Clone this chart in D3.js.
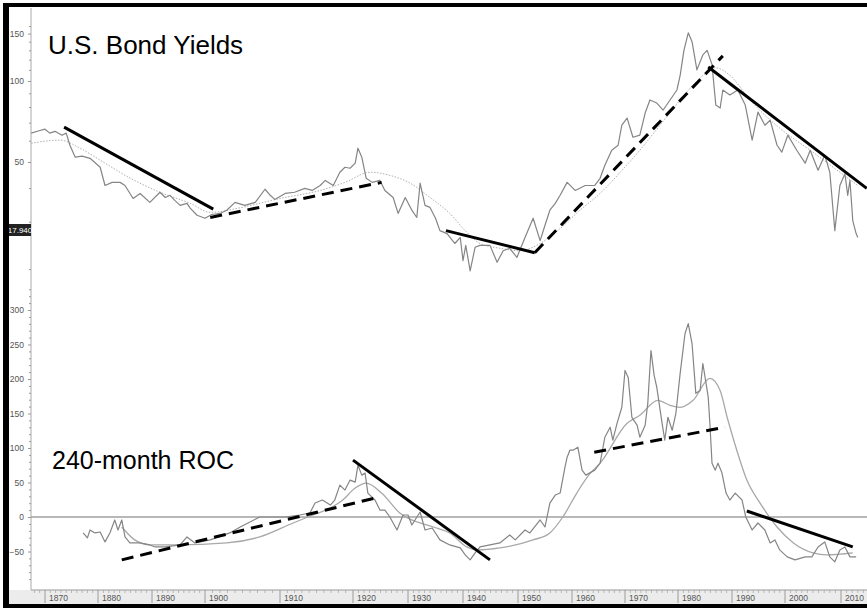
<!DOCTYPE html>
<html>
<head>
<meta charset="utf-8">
<script src="https://cdn.jsdelivr.net/npm/d3@7"></script>
<style>
  html, body { margin: 0; padding: 0; background: #fff; }
  svg { display: block; }
</style>
</head>
<body>
<svg id="chart" width="867" height="610"></svg>
<script>
// ---------------- DATA ----------------
const decadeYears = [1870, 1880, 1890, 1900, 1910, 1920, 1930, 1940, 1950, 1960, 1970, 1980, 1990, 2000, 2010];
const yTopTickLabels = [150, 100, 50];
const yTopMinorTicks = [160, 140, 130, 120, 110, 90, 80, 70, 60, 40, 30, 20];
const yBotTickLabels = [300, 250, 200, 150, 100, 50, 0, -50];
const lastValueLabel = "17.940";

const yieldYears = [1867.4,1868.7,1870,1870.9,1871.9,1873.2,1874,1874.7,1875.7,1877,1878.5,1880.4,1881.3,1882.6,1884.1,1885,1886.5,1887.8,1889.6,1891.5,1892.5,1893.4,1894.3,1895.3,1896.6,1897.2,1898.5,1900,1900.9,1902,1902.9,1904,1905.3,1906.7,1908,1908.7,1909.3,1910.7,1912,1913.4,1914.4,1915.5,1916.2,1917.3,1918.2,1918.9,1919.6,1920.4,1920.9,1921.6,1922.4,1923.5,1924.9,1925.8,1927.3,1928.2,1929.5,1930.7,1931.6,1932.2,1933.1,1934,1935,1935.8,1937.1,1938.5,1939.5,1940,1940.5,1941.3,1942.2,1943.1,1944.9,1946.2,1947.3,1948.5,1949.8,1951.3,1952.8,1954.1,1955,1955.9,1956.9,1957.8,1959.1,1960.6,1962.5,1964.3,1965.3,1966.2,1967.5,1968.7,1969.4,1970.4,1971.5,1972.8,1973.8,1974.7,1976,1977.2,1978.5,1979.8,1980.4,1981.1,1981.9,1982.6,1983.5,1984.6,1985.4,1986.3,1987,1987.8,1988.3,1989.6,1991.1,1992.5,1993.8,1994.9,1996.2,1997.2,1998.5,1999.4,2000.5,2002.1,2003.6,2004.5,2005.9,2007.1,2008,2008.9,2009.8,2010.7,2011.2,2011.6,2012.1,2012.7,2013];
const yieldValues = [64.0,65.2,66.2,64.0,65.0,62.9,64.0,57.7,52.1,52.6,51.6,47.8,40.9,42.0,42.0,40.9,36.6,38.2,35.4,38.6,36.9,37.6,36.0,34.5,35.1,33.7,31.7,30.9,31.9,32.2,33.1,35.4,34.5,35.4,39.6,37.6,36.3,38.2,38.6,39.9,39.2,40.9,42.7,40.9,45.8,47.8,47.4,49.5,56.3,52.1,43.5,42.0,42.7,39.2,36.9,32.2,36.9,33.1,31.1,41.7,34.5,33.9,30.9,27.8,27.1,24.9,26.2,21.5,24.5,19.7,24.1,24.5,24.5,21.2,23.4,23.9,22.1,26.2,30.9,25.5,29.1,33.1,35.1,37.6,42.0,39.2,40.9,40.9,43.5,48.6,55.3,57.7,68.5,72.8,61.8,62.9,76.0,85.0,82.8,78.0,85.0,92.6,105,130,151,140,110,125,130,115,81.4,79.3,92.6,88.7,92.6,81.4,60.3,76.6,68.5,71.5,57.7,54.4,62.9,55.3,49.5,55.3,46.6,53.0,45.8,27.8,40.9,45.2,37.6,42.7,30.3,27.1,26.2];

const yieldMAYears = [1867.4,1872.8,1876.6,1880.4,1886,1891.5,1897.2,1900.7,1904.7,1910,1915.5,1918.9,1923.1,1926.7,1930.4,1934,1937.6,1940.4,1943.1,1946.7,1950.4,1954.1,1957.8,1961.5,1965.3,1969.1,1972.8,1976.6,1980.4,1984.1,1986.9,1989.6,1993.4,1999,2004.5,2009.8,2013];
const yieldMAValues = [58.7,60.3,56.3,50.8,43.5,38.6,35.1,32.5,33.8,36.6,39.2,42.0,45.8,44.6,41.7,36.9,32.2,27.8,24.9,23.9,23.4,24.9,28.3,33.1,38.2,45.8,55.3,68.5,85.0,102.6,112,105,85,66.8,55.3,45.8,40.9];

const rocYears = [1877.2,1878,1878.5,1879.4,1880.4,1881.3,1882.2,1883.1,1883.7,1884.4,1885,1885.9,1887.8,1889.6,1890.6,1892.5,1895.3,1896.6,1898.1,1900.7,1903.3,1904.7,1907.3,1909.3,1910.7,1912.7,1914.1,1914.8,1915.8,1916.9,1917.5,1918.2,1918.9,1919.6,1920.4,1920.9,1921.6,1922.2,1922.7,1924,1924.9,1925.8,1926.7,1928,1929.1,1930,1930.7,1932.2,1933.1,1934.4,1935.8,1937.6,1939.5,1940.4,1941.3,1942.2,1943.1,1944.9,1946.7,1948.5,1949.5,1951.3,1952.2,1954.1,1955,1955.9,1956.9,1957.8,1958.7,1959.1,1959.6,1960.2,1961.1,1961.9,1962.6,1964.3,1965.3,1966.2,1967.2,1967.7,1968.5,1969.4,1970,1970.6,1971.3,1972.3,1972.8,1973.8,1974.3,1974.9,1975.5,1976,1977,1977.5,1978.1,1978.9,1979.6,1980.4,1981.3,1981.9,1982.6,1983.3,1984.1,1984.6,1985.2,1985.6,1985.9,1986.3,1986.9,1987.4,1988.1,1988.9,1989.6,1990.6,1991.9,1992.6,1993.8,1994.9,1996.2,1997.2,1998.1,1999,2000.4,2001.8,2003.6,2004.8,2005.9,2007.1,2008,2008.9,2009.8,2010.7,2011.6,2012.7];
const rocValues = [-23.1,-30.3,-18.8,-23.1,-21.7,-36.1,-23.1,-4.3,-18.8,-4.3,-28.9,-37.6,-37.6,-40.5,-43.4,-43.4,-40.5,-28.9,-37.6,-33.2,-23.1,-14.5,0,0,0,2.9,5.8,20.2,24.6,17.3,24.6,46.2,39.0,53.5,50.6,75.1,60.7,63.6,34.7,24.6,10.1,10.1,0,-18.8,2.9,2.9,-11.6,7.2,-18.8,-15.9,-33.2,-40.5,-44.8,-54.9,-62.1,-52.0,-43.4,-40.5,-37.6,-26.0,-33.2,-18.8,-23.1,-4.3,-14.5,20.2,31.8,34.7,72.3,86.7,96.8,96.8,101.2,67.9,60.7,67.9,78.0,115.6,130.1,111.3,135.8,159.0,212.4,202.3,144.5,132.9,115.6,132.9,164.7,241.3,205.2,187.9,135.8,111.3,144.5,125.7,150.3,208.1,265.9,280.3,251.4,179.2,183.5,222.5,193.6,173.4,135.8,78.0,67.9,78.0,65.0,34.7,24.6,34.7,24.6,0,-18.8,-8.7,-18.8,-37.6,-33.2,-47.7,-57.8,-62.1,-57.8,-57.8,-43.4,-36.1,-57.8,-65.0,-47.7,-43.4,-57.8,-57.8];

const rocMAYears = [1884.4,1886.8,1889.6,1894.7,1902.9,1907.3,1911.8,1914.5,1916.9,1918.6,1920.4,1922.4,1925.2,1928.5,1934.6,1937.6,1940.7,1942.5,1946.7,1952.8,1955.9,1958.3,1960.9,1963.3,1965.3,1970.4,1972.8,1976.2,1978.5,1980.4,1982.8,1985.9,1987.8,1989.1,1990.9,1992.8,1995.3,1998.5,2001.5,2005,2007.5,2012.1];
const rocMAValues = [-14.5,-33.2,-40.5,-40.5,-37.6,-28.9,-8.7,2.9,13.0,24.6,41.9,49.1,34.7,5.8,-14.5,-23.1,-43.4,-47.7,-44.8,-33.2,-23.1,0,34.7,62.1,78.0,135.8,147.4,169.1,161.8,159.0,169.1,200.9,183.5,144.5,96.8,53.5,20.2,-14.5,-37.6,-52.0,-54.9,-52.0];

// trendlines: [year1, value1, year2, value2, dashed]
const yieldTrendlines = [
  [1873.6, 67.4, 1901.1, 33.4, false],
  [1900.7, 31.1, 1925.2, 42.0, true],
  [1936.9, 27.8, 1953.1, 23.0, false],
  [1953.1, 23.0, 1988.3, 124, true],
  [1985.6, 112.7, 2014.6, 39.9, false]
];
const rocTrendlines = [
  [1884.4, -62.1, 1924.0, 27.5, true],
  [1920.0, 82.4, 1944.9, -62.1, false],
  [1964.2, 93.9, 1988.7, 130.1, true],
  [1992.8, 8.7, 2012.1, -43.4, false]
];

// ---------------- LAYOUT ----------------
const W = 867, H = 610;
const axisX = 31, axisBottom = 590;
const decadePx = [45, 98, 152, 205, 280, 353, 408, 463, 518, 572, 625, 678, 732, 785, 841];

const svg = d3.select("#chart");
svg.append("rect").attr("width", W).attr("height", H).attr("fill", "#fff");

const x = d3.scaleLinear().domain(decadeYears).range(decadePx);
// extrapolation helper for ends (polylinear scale clamps to end segments' slope)
const yTop = d3.scaleLog().domain([100, 50]).range([81, 162]);
const yBot = d3.scaleLinear().domain([0, 300]).range([517, 310]);

// x axis band
svg.append("rect").attr("x", 9).attr("y", axisBottom).attr("width", W - 9).attr("height", 14).attr("fill", "#ececec");
svg.append("line").attr("x1", axisX).attr("x2", W).attr("y1", axisBottom).attr("y2", axisBottom)
  .attr("stroke", "#999").attr("stroke-width", 1);

// year minor ticks
const minorYears = d3.range(1868, 2015);
svg.append("g").selectAll("line").data(minorYears).join("line")
  .attr("x1", d => x(d)).attr("x2", d => x(d))
  .attr("y1", axisBottom).attr("y2", d => d % 10 === 0 ? axisBottom + 13 : axisBottom + 3)
  .attr("stroke", d => d % 10 === 0 ? "#888" : "#aaa").attr("stroke-width", 0.8);
svg.append("g").selectAll("text").data(decadeYears).join("text")
  .attr("x", d => x(d) + 4).attr("y", axisBottom + 11)
  .attr("font-family", "'Liberation Sans Narrow', 'Arial Narrow', 'Liberation Sans', sans-serif")
  .attr("font-size", 8.5).attr("fill", "#555").text(d => d);

// y axis line
svg.append("line").attr("x1", axisX).attr("x2", axisX).attr("y1", 8).attr("y2", axisBottom)
  .attr("stroke", "#aaa").attr("stroke-width", 1);

const tickFont = "'Liberation Sans Narrow', 'Arial Narrow', 'Liberation Sans', sans-serif";

// top y axis
const gTopAxis = svg.append("g").attr("transform", `translate(${axisX},0)`)
  .call(d3.axisLeft(yTop).tickValues(yTopTickLabels).tickSize(3).tickFormat(d3.format("d")));
const gTopMinor = svg.append("g").attr("transform", `translate(${axisX},0)`)
  .call(d3.axisLeft(yTop).tickValues(yTopMinorTicks).tickSize(2).tickFormat(""));
// bottom y axis
const gBotAxis = svg.append("g").attr("transform", `translate(${axisX},0)`)
  .call(d3.axisLeft(yBot).tickValues(yBotTickLabels).tickSize(3).tickFormat(d3.format("d")));
const gBotMinor = svg.append("g").attr("transform", `translate(${axisX},0)`)
  .call(d3.axisLeft(yBot).tickValues(d3.range(-100, 331, 10).filter(v => v % 50 !== 0)).tickSize(2).tickFormat(""));
[gTopAxis, gTopMinor, gBotAxis, gBotMinor].forEach(g => {
  g.select(".domain").remove();
  g.selectAll(".tick line").attr("stroke", "#999");
  g.selectAll(".tick text").attr("font-family", tickFont).attr("font-size", 8.5).attr("fill", "#555").attr("dx", "-1");
});

// last value label box
const lvY = 230;
svg.append("rect").attr("x", 9).attr("y", lvY - 6).attr("width", 22).attr("height", 12).attr("fill", "#222");
svg.append("text").attr("x", 20).attr("y", lvY + 3).attr("text-anchor", "middle")
  .attr("font-family", tickFont).attr("font-size", 8).attr("fill", "#fff").text(lastValueLabel);

// zero line
svg.append("line").attr("x1", axisX).attr("x2", W).attr("y1", yBot(0)).attr("y2", yBot(0))
  .attr("stroke", "#a0a0a0").attr("stroke-width", 1.5);

// series
const lineTop = d3.line().x(d => x(d[0])).y(d => yTop(d[1]));
const lineBot = d3.line().x(d => x(d[0])).y(d => yBot(d[1]));

svg.append("path").datum(d3.zip(yieldMAYears, yieldMAValues)).attr("d", lineTop.curve(d3.curveMonotoneX))
  .attr("fill", "none").attr("stroke", "#b0b0b0").attr("stroke-width", 1).attr("stroke-dasharray", "1.5,1.5");
svg.append("path").datum(d3.zip(yieldYears, yieldValues)).attr("d", d3.line().x(d => x(d[0])).y(d => yTop(d[1])))
  .attr("fill", "none").attr("stroke", "#858585").attr("stroke-width", 1.2).attr("stroke-linejoin", "round");

svg.append("path").datum(d3.zip(rocMAYears, rocMAValues)).attr("d", lineBot.curve(d3.curveMonotoneX))
  .attr("fill", "none").attr("stroke", "#a8a8a8").attr("stroke-width", 1.3);
svg.append("path").datum(d3.zip(rocYears, rocValues)).attr("d", d3.line().x(d => x(d[0])).y(d => yBot(d[1])))
  .attr("fill", "none").attr("stroke", "#858585").attr("stroke-width", 1.2).attr("stroke-linejoin", "round");

// trendlines
function drawTrend(data, yScale) {
  svg.append("g").selectAll("line").data(data).join("line")
    .attr("x1", d => x(d[0])).attr("y1", d => yScale(d[1]))
    .attr("x2", d => x(d[2])).attr("y2", d => yScale(d[3]))
    .attr("stroke", "#000").attr("stroke-width", 3)
    .attr("stroke-dasharray", d => d[4] ? "12,7" : null);
}
drawTrend(yieldTrendlines, yTop);
drawTrend(rocTrendlines, yBot);

// titles
svg.append("text").attr("x", 48).attr("y", 54)
  .attr("font-family", "'Liberation Sans', Arial, sans-serif").attr("font-size", 26).attr("fill", "#000")
  .text("U.S. Bond Yields");
svg.append("text").attr("x", 52).attr("y", 469)
  .attr("font-family", "'Liberation Sans', Arial, sans-serif").attr("font-size", 25).attr("fill", "#000")
  .text("240-month ROC");

// frame
svg.append("rect").attr("x", 3).attr("y", 3).attr("width", 6).attr("height", 605).attr("fill", "#000");
svg.append("rect").attr("x", 3).attr("y", 3).attr("width", W - 3).attr("height", 4).attr("fill", "#000");
svg.append("rect").attr("x", 3).attr("y", 604).attr("width", W - 3).attr("height", 4).attr("fill", "#000");
</script>
</body>
</html>
